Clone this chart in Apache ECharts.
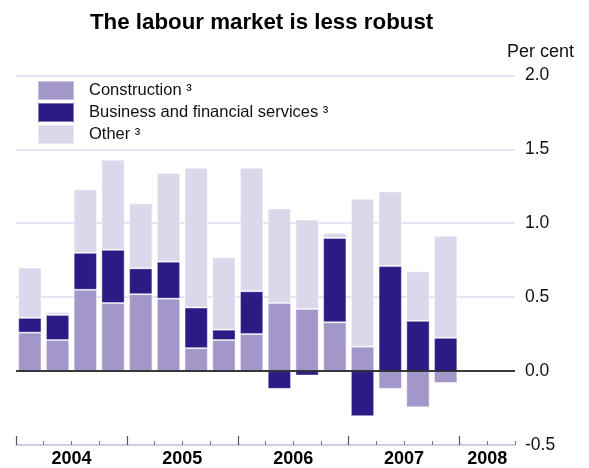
<!DOCTYPE html>
<html>
<head>
<meta charset="utf-8">
<script src="https://cdn.jsdelivr.net/npm/echarts@6/dist/echarts.min.js"></script>
<style>
  html, body { margin: 0; padding: 0; background: #fff; }
  #main { width: 589px; height: 468px; }
</style>
</head>
<body>
<div id="main"></div>
<script>
// quarterly categories, 2004 Q1 - 2008 Q2 (2008 has no data yet)
var quarters = ['2004 Q1', '2004 Q2', '2004 Q3', '2004 Q4',
  '2005 Q1', '2005 Q2', '2005 Q3', '2005 Q4',
  '2006 Q1', '2006 Q2', '2006 Q3', '2006 Q4',
  '2007 Q1', '2007 Q2', '2007 Q3', '2007 Q4',
  '2008 Q1', '2008 Q2'];
var construction = [0.26, 0.21, 0.55, 0.46, 0.52, 0.49, 0.155, 0.21,
  0.25, 0.46, 0.42, 0.33, 0.165, -0.12, -0.245, -0.08, null, null];
var business = [0.10, 0.17, 0.25, 0.36, 0.175, 0.25, 0.275, 0.07,
  0.29, -0.12, -0.03, 0.57, -0.305, 0.71, 0.34, 0.225, null, null];
var other = [0.34, 0.02, 0.43, 0.61, 0.44, 0.60, 0.945, 0.49,
  0.835, 0.64, 0.605, 0.035, 1.0, 0.505, 0.335, 0.69, null, null];
var seriesNames = ['Construction \u00b3', 'Business and financial services \u00b3', 'Other \u00b3'];
var yTicks = [-0.5, 0, 0.5, 1.0, 1.5, 2.0];

var FONT = '"Liberation Sans", Arial, Helvetica, sans-serif';

// year label sits in the middle of its quarters; long ticks at each Q1
var years = [];
var yearSpan = {};
quarters.forEach(function (q, i) {
  var y = q.slice(0, 4);
  if (years.indexOf(y) < 0) { years.push(y); yearSpan[y] = [i, i]; }
  yearSpan[y][1] = i + 1;
});
var labelValues = years.map(function (y) { return (yearSpan[y][0] + yearSpan[y][1]) / 2; });
var majorTicks = years.map(function (y) { return yearSpan[y][0]; });

var chart = echarts.init(document.getElementById('main'));
chart.setOption({
  animation: false,
  title: [
    {
      text: 'The labour market is less robust',
      left: 85, top: 7,
      textStyle: { fontFamily: FONT, fontSize: 22.3, fontWeight: 'bold', color: '#000' }
    },
    {
      text: 'Per cent',
      right: 10, top: 38,
      textStyle: { fontFamily: FONT, fontSize: 18, fontWeight: 'normal', color: '#111' }
    }
  ],
  legend: {
    orient: 'vertical',
    left: 37, top: 80, padding: 0,
    itemWidth: 36, itemHeight: 19, itemGap: 1,
    icon: 'rect',
    data: seriesNames,
    textStyle: { fontFamily: FONT, fontSize: 16.5, color: '#111', padding: [0, 0, 0, 10] }
  },
  grid: { left: 16, right: 74, top: 75.4, bottom: 21.3, containLabel: false },
  xAxis: [
    {
      type: 'category', data: quarters, show: false
    },
    {
      // axis line and short quarter ticks
      type: 'value', min: 0, max: quarters.length, interval: 1, position: 'bottom',
      axisLine: { show: true, lineStyle: { color: '#cac6da', width: 1.5 } },
      axisTick: { show: true, inside: true, length: 4,
        lineStyle: { color: '#7a7788', width: 1 } },
      axisLabel: { show: false },
      splitLine: { show: false }
    },
    {
      // long year ticks
      type: 'value', min: 0, max: quarters.length, position: 'bottom',
      axisLine: { show: false },
      axisTick: { show: true, inside: true, length: 9, customValues: majorTicks,
        lineStyle: { color: '#555', width: 1.2 } },
      axisLabel: { show: false },
      splitLine: { show: false }
    },
    {
      // year labels
      type: 'value', min: 0, max: quarters.length, position: 'bottom',
      axisLine: { show: false },
      axisTick: { show: false },
      axisLabel: { show: true, customValues: labelValues, margin: 5,
        fontFamily: FONT, fontSize: 18, fontWeight: 'bold', color: '#000',
        formatter: function (v) {
          var i = labelValues.indexOf(v);
          return i >= 0 ? years[i] : '';
        } },
      splitLine: { show: false }
    }
  ],
  yAxis: {
    type: 'value', position: 'right',
    min: yTicks[0], max: yTicks[yTicks.length - 1], interval: 0.5,
    axisLine: { show: false },
    axisTick: { show: false },
    axisLabel: { margin: 10, fontFamily: FONT, fontSize: 17.5, color: '#111',
      formatter: function (v) { return v.toFixed(1); } },
    splitLine: { lineStyle: { color: '#dedbee', width: 1.5 } }
  },
  series: [
    {
      name: seriesNames[0], type: 'bar', stack: 'total', xAxisIndex: 0,
      data: construction, barCategoryGap: '16%',
      itemStyle: { color: '#a396c8', borderColor: 'rgba(255,255,255,0.4)', borderWidth: 1 }
    },
    {
      name: seriesNames[1], type: 'bar', stack: 'total', xAxisIndex: 0,
      data: business,
      itemStyle: { color: '#2d1b85', borderColor: 'rgba(255,255,255,0.4)', borderWidth: 1 }
    },
    {
      name: seriesNames[2], type: 'bar', stack: 'total', xAxisIndex: 0,
      data: other,
      itemStyle: { color: '#dcd8ec', borderColor: 'rgba(255,255,255,0.4)', borderWidth: 1 },
      markLine: {
        silent: true, symbol: 'none', label: { show: false },
        lineStyle: { color: '#000', width: 1.5, type: 'solid' },
        data: [{ yAxis: 0 }]
      }
    }
  ]
});
window.onresize = function () { chart.resize(); };
</script>
</body>
</html>
